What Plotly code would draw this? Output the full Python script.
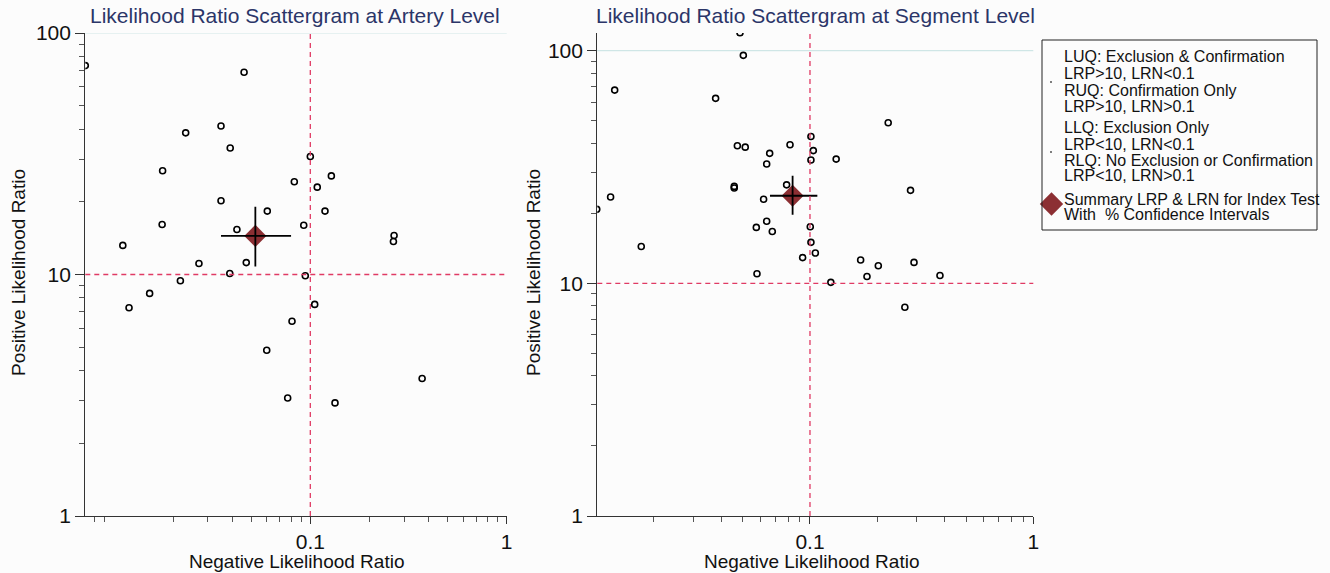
import plotly.graph_objects as go
import numpy as np

# ---------------- data ----------------
artery_lrn = [0.00715, 0.0460, 0.0351, 0.0232, 0.0391, 0.100, 0.0177, 0.128, 0.0829, 0.1085,
              0.0351, 0.0604, 0.1188, 0.0176, 0.0926, 0.0423, 0.267, 0.265, 0.0111, 0.0271,
              0.0472, 0.0389, 0.0943, 0.0218, 0.0152, 0.01194, 0.1053, 0.0807, 0.0600, 0.371,
              0.0767, 0.1336]
artery_lrp = [73.3, 68.8, 41.2, 38.6, 33.4, 30.8, 26.9, 25.6, 24.2, 23.0,
              20.2, 18.3, 18.3, 16.1, 16.0, 15.35, 14.5, 13.7, 13.2, 11.1,
              11.2, 10.1, 9.88, 9.42, 8.35, 7.28, 7.52, 6.40, 4.86, 3.71,
              3.08, 2.94]
artery_summary = dict(lrn=0.0525, lrn_lo=0.0351, lrn_hi=0.0798,
                      lrp=14.45, lrp_lo=10.8, lrp_hi=19.1)

segment_lrn = [0.0486, 0.0503, 0.01335, 0.0378, 0.224, 0.101, 0.0473, 0.0513, 0.0814, 0.1035,
               0.066, 0.131, 0.101, 0.064, 0.282, 0.0458, 0.0458, 0.0786, 0.0128, 0.062,
               0.0111, 0.064, 0.0575, 0.1003, 0.0678, 0.101, 0.1057, 0.01756, 0.0927, 0.1686,
               0.2923, 0.2023, 0.0579, 0.180, 0.382, 0.124, 0.266]
segment_lrp = [119.4, 95.5, 67.7, 62.4, 49.0, 42.8, 39.0, 38.5, 39.4, 37.2,
               36.2, 34.2, 33.9, 32.6, 25.1, 26.1, 25.7, 26.5, 23.5, 23.0,
               20.8, 18.5, 17.4, 17.5, 16.7, 15.0, 13.5, 14.4, 12.9, 12.6,
               12.3, 11.9, 11.0, 10.7, 10.8, 10.1, 7.89]
segment_summary = dict(lrn=0.0836, lrn_lo=0.0662, lrn_hi=0.1079,
                       lrp=23.8, lrp_lo=19.7, lrp_hi=29.0)

titles = ["Likelihood Ratio Scattergram at Artery Level",
          "Likelihood Ratio Scattergram at Segment Level"]
x_title = "Negative Likelihood Ratio"
y_title = "Positive Likelihood Ratio"
legend_lines = ["LUQ: Exclusion & Confirmation", "LRP>10, LRN<0.1",
                "RUQ: Confirmation Only", "LRP>10, LRN>0.1",
                "LLQ: Exclusion Only", "LRP<10, LRN<0.1",
                "RLQ: No Exclusion or Confirmation", "LRP<10, LRN>0.1",
                "Summary LRP & LRN for Index Test", "With  % Confidence Intervals"]

# ---------------- layout geometry ----------------
W, H = 1330, 573
FONT = "Liberation Sans, Arial, sans-serif"
NAVY = "#2b3568"
RED_DASH = "#e03a64"
DIAMOND = "#8c2f33"


def px_x(p):
    return p / W


def px_y(p):
    return 1 - p / H


panels = [
    dict(xdom=[85.3, 506.7], ydom=[33, 516], xrange=[np.log10(0.00715), 0], yrange=[0, 2],
         lrn=artery_lrn, lrp=artery_lrp, s=artery_summary, title_x=295, xt_x=296, yt_x=18),
    dict(xdom=[597.3, 1033.3], ydom=[33, 516], xrange=[np.log10(0.01116), 0], yrange=[0, 2.076],
         lrn=segment_lrn, lrp=segment_lrp, s=segment_summary, title_x=815, xt_x=811, yt_x=533),
]

fig = go.Figure()
layout_updates = {}
shapes = []
annotations = []

minor_x = [v * 10.0 ** e for e in (-3, -2, -1) for v in range(2, 10)]
minor_y = [v * 10.0 ** e for e in (0, 1, 2) for v in range(2, 10)]

for i, p in enumerate(panels):
    n = "" if i == 0 else str(i + 1)
    xa, ya = "x" + n, "y" + n
    fig.add_trace(go.Scatter(
        x=p["lrn"], y=p["lrp"], mode="markers", xaxis=xa, yaxis=ya,
        marker=dict(symbol="circle-open", size=6, color="black", line=dict(width=1.6)),
        showlegend=False, hoverinfo="x+y"))
    s = p["s"]
    fig.add_trace(go.Scatter(
        x=[s["lrn"]], y=[s["lrp"]], mode="markers", xaxis=xa, yaxis=ya,
        marker=dict(symbol="diamond", size=17, color=DIAMOND, line=dict(width=0)),
        showlegend=False))
    fig.add_trace(go.Scatter(
        x=[s["lrn_lo"], s["lrn_hi"], None, s["lrn"], s["lrn"]],
        y=[s["lrp"], s["lrp"], None, s["lrp_lo"], s["lrp_hi"]],
        mode="lines", line=dict(color="black", width=1.8), xaxis=xa, yaxis=ya,
        showlegend=False, hoverinfo="skip"))

    axis_common = dict(showgrid=False, zeroline=False, showline=True, linecolor="#333333",
                       linewidth=1.3, ticks="outside", tickwidth=1.2,
                       tickcolor="#333333", automargin=False,
                       tickfont=dict(family=FONT, size=21, color="#111111"))
    layout_updates["xaxis" + n] = dict(
        axis_common, type="log", range=p["xrange"], ticklen=7,
        domain=[px_x(p["xdom"][0]), px_x(p["xdom"][1])],
        anchor=ya, tickvals=[0.1, 1], ticktext=["0.1", "1"],
        minor=dict(ticks="outside", ticklen=5, tickwidth=1, tickcolor="#555555",
                   tickvals=minor_x, showgrid=False))
    layout_updates["yaxis" + n] = dict(
        axis_common, type="log", range=p["yrange"], ticklen=9,
        domain=[px_y(p["ydom"][1]), px_y(p["ydom"][0])],
        anchor=xa, tickvals=[1, 10, 100], ticktext=["1", "10", "100"],
        minor=dict(ticks="outside", ticklen=5, tickwidth=1, tickcolor="#555555",
                   tickvals=minor_y, showgrid=False))

    # reference lines
    shapes.append(dict(type="line", xref=xa + " domain", yref=ya, x0=0, x1=1, y0=100, y1=100,
                       line=dict(color="#cfe6e6", width=1.2), layer="below"))
    shapes.append(dict(type="line", xref=xa + " domain", yref=ya, x0=0, x1=1, y0=10, y1=10,
                       line=dict(color=RED_DASH, width=1.3, dash="5px,4px")))
    shapes.append(dict(type="line", xref=xa, yref=ya + " domain", x0=0.1, x1=0.1, y0=0, y1=1,
                       line=dict(color=RED_DASH, width=1.3, dash="5px,4px")))

    annotations.append(dict(text=titles[i], xref="paper", yref="paper",
                            x=px_x(p["title_x"]), y=px_y(16), xanchor="center", yanchor="middle",
                            showarrow=False, font=dict(family=FONT, size=21, color=NAVY)))
    annotations.append(dict(text=x_title, xref="paper", yref="paper",
                            x=px_x(p["xt_x"]), y=px_y(561), xanchor="center", yanchor="middle",
                            showarrow=False, font=dict(family=FONT, size=19, color="#111111")))
    annotations.append(dict(text=y_title, xref="paper", yref="paper", textangle=-90,
                            x=px_x(p["yt_x"]), y=px_y(273), xanchor="center", yanchor="middle",
                            showarrow=False, font=dict(family=FONT, size=19, color="#111111")))

# legend box
shapes.append(dict(type="rect", xref="paper", yref="paper",
                   x0=px_x(1042), x1=px_x(1317), y0=px_y(230), y1=px_y(40),
                   line=dict(color="#222222", width=1), fillcolor="rgba(0,0,0,0)"))
legend_y = [57, 73, 90, 106, 128, 144, 160, 176, 199, 215]
for txt, yy in zip(legend_lines, legend_y):
    annotations.append(dict(text=txt, xref="paper", yref="paper", x=px_x(1062), y=px_y(yy),
                            xanchor="left", yanchor="middle", showarrow=False,
                            font=dict(family=FONT, size=16, color="#111111")))
# legend diamond and tiny dots
fig.add_trace(go.Scatter(x=[px_x(1051.5)], y=[px_y(204)], xaxis="x3", yaxis="y3", mode="markers",
                         marker=dict(symbol="diamond", size=18, color=DIAMOND),
                         showlegend=False, hoverinfo="skip"))
fig.add_trace(go.Scatter(x=[px_x(1051), px_x(1051)], y=[px_y(82), px_y(152)], xaxis="x3", yaxis="y3",
                         mode="markers", marker=dict(size=2, color="#555555"),
                         showlegend=False, hoverinfo="skip"))
layout_updates["xaxis3"] = dict(domain=[0, 1], range=[0, 1], visible=False, anchor="y3", fixedrange=True)
layout_updates["yaxis3"] = dict(domain=[0, 1], range=[0, 1], visible=False, anchor="x3", fixedrange=True)

fig.update_layout(
    width=W, height=H, margin=dict(l=0, r=0, t=0, b=0),
    paper_bgcolor="#fcfcfc", plot_bgcolor="rgba(0,0,0,0)",
    shapes=shapes, annotations=annotations, showlegend=False,
    **layout_updates)

fig.write_html("out.html")
